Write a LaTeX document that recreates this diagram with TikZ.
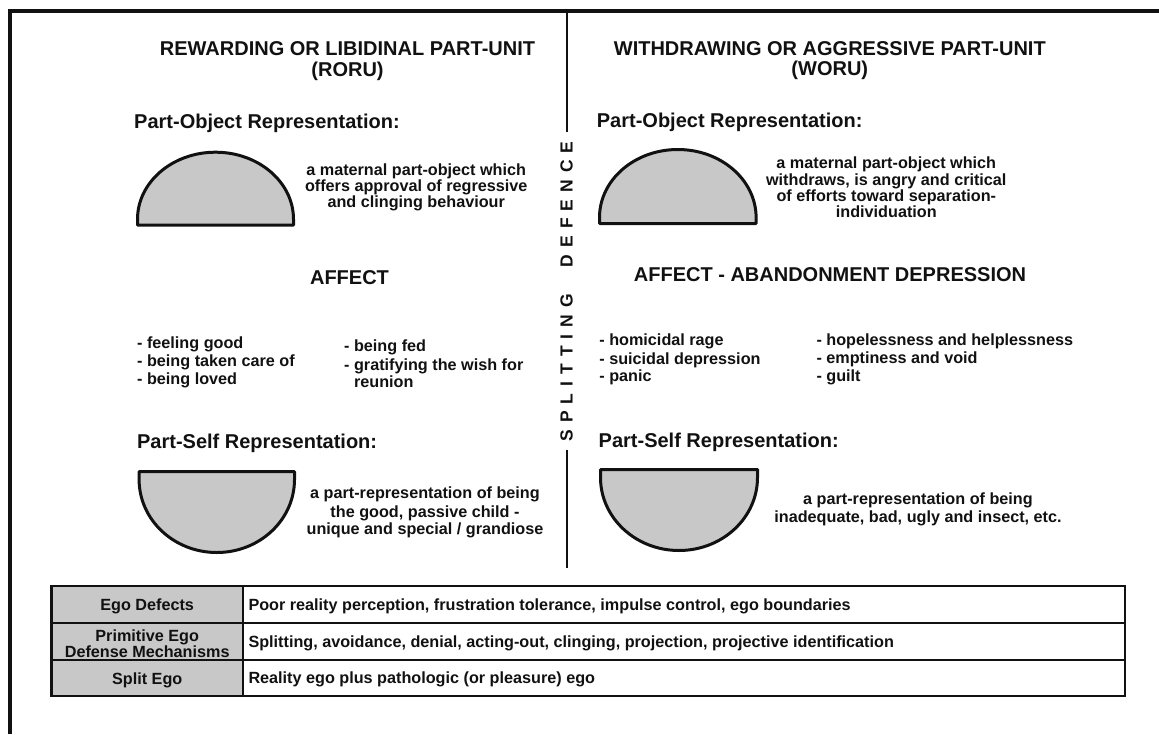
\documentclass[tikz,border=0pt]{standalone}
\usepackage{fontspec}
\setmainfont{Liberation Sans}
\definecolor{fillgray}{HTML}{C8C8C8}
\definecolor{ink}{HTML}{111111}
\newcommand\hdsize{\bfseries\fontsize{20}{22}\selectfont}
\newcommand\txsize{\bfseries\fontsize{16.2}{18}\selectfont}
\newcommand\sk{\kern7pt}
\tikzset{
  hd/.style={font=\hdsize, text=ink, inner sep=0pt, anchor=base},
  hdl/.style={hd, anchor=base west},
  tx/.style={font=\txsize, text=ink, inner sep=0pt, anchor=base},
  txl/.style={tx, anchor=base west},
  shp/.style={draw=ink, line width=3pt, fill=fillgray, line join=round},
  divline/.style={draw=ink, line width=2.2pt},
  tabline/.style={draw=ink, line width=2pt},
}
\begin{document}
\begin{tikzpicture}[x=1pt,y=-1pt]
\useasboundingbox (0,0) rectangle (1159,734);
% frame
\draw[ink, line width=4.6pt] (9.8,734) -- (9.8,11) -- (1159,11);

% divider with vertical label
\coordinate (dtop) at (566.7,11);
\coordinate (dbot) at (566.7,568);
\node[font=\bfseries\fontsize{17.5}{18}\selectfont, text=ink, inner sep=0pt, rotate=90] (split) at (566.7,291.5)
  {S\sk P\sk L\sk I\sk T\sk T\sk I\sk N\sk G\kern27pt D\sk E\sk F\sk E\sk N\sk C\sk E};
\coordinate (da) at (566.7,132);
\coordinate (db) at (566.7,450);
\draw[divline] (dtop) -- (da);
\draw[divline] (db) -- (dbot);

% headings
\node[hd] (h1a) at (347.5,55.5) {REWARDING OR LIBIDINAL PART-UNIT};
\node[hd] (h1b) at (347.5,76) {(RORU)};
\node[hd] (h2a) at (829.8,55) {WITHDRAWING OR AGGRESSIVE PART-UNIT};
\node[hd] (h2b) at (829.8,75.5) {(WORU)};

% part-object
\node[hdl] (po1) at (134,128) {Part-Object Representation:};
\node[hdl] (po2) at (596.7,127) {Part-Object Representation:};

\draw[shp] (137.5,225.2) -- (137.5,219.2) arc[start angle=180, end angle=0, x radius=78pt, y radius=67pt] -- (293.5,225.2) -- cycle;
\draw[shp] (599.5,223.5) -- (599.5,217.5) arc[start angle=180, end angle=0, x radius=78.3pt, y radius=68pt] -- (756.1,223.5) -- cycle;

\node[tx] (po1a) at (416.2,175) {a maternal part-object which};
\node[tx] (po1b) at (416.2,191) {offers approval of regressive};
\node[tx] (po1c) at (416.2,207.3) {and clinging behaviour};

\node[tx] (po2a) at (886.3,168.3) {a maternal part-object which};
\node[tx] (po2b) at (886.3,185) {withdraws, is angry and critical};
\node[tx] (po2c) at (886.3,201.3) {of efforts toward separation-};
\node[tx] (po2d) at (886.3,217.7) {individuation};

% affect
\node[hd] (af1) at (349.5,284) {AFFECT};
\node[hd] (af2) at (830,281) {AFFECT - ABANDONMENT DEPRESSION};

\node[txl] (l11) at (137,348) {- feeling good};
\node[txl] (l12) at (137,366.5) {- being taken care of};
\node[txl] (l13) at (137,384.7) {- being loved};
\node[txl] (l21) at (344,351.7) {- being fed};
\node[txl] (l22) at (344,370.2) {- gratifying the wish for};
\node[txl] (l23) at (344,387.6) {\phantom{- }reunion};

\node[txl] (r11) at (599.2,345.7) {- homicidal rage};
\node[txl] (r12) at (599.2,364) {- suicidal depression};
\node[txl] (r13) at (599.2,381.9) {- panic};
\node[txl] (r21) at (816.3,345) {- hopelessness and helplessness};
\node[txl] (r22) at (816.3,363.4) {- emptiness and void};
\node[txl] (r23) at (816.3,381.9) {- guilt};

% part-self
\node[hdl] (ps1) at (136.9,448.7) {Part-Self Representation:};
\node[hdl] (ps2) at (598.5,447.6) {Part-Self Representation:};

\draw[shp] (139.1,471.5) -- (294.5,471.5) -- (294.5,479.5) arc[start angle=0, end angle=-180, x radius=77.7pt, y radius=73pt] -- cycle;
\draw[shp] (600.5,469.5) -- (757.5,469.5) -- (757.5,477.5) arc[start angle=0, end angle=-180, x radius=78.5pt, y radius=73pt] -- cycle;

\node[tx] (ps1a) at (425,498.6) {a part-representation of being};
\node[tx] (ps1b) at (425,517) {the good, passive child -};
\node[tx] (ps1c) at (425,534.5) {unique and special / grandiose};

\node[tx] (ps2a) at (918,504.5) {a part-representation of being};
\node[tx] (ps2b) at (918,522.2) {inadequate, bad, ugly and insect, etc.};

% table
\fill[fillgray] (51.7,586) rectangle (242.7,696);
\draw[tabline] (51.7,622.5) -- (1125,622.5);
\draw[tabline] (51.7,659.5) -- (1125,659.5);
\draw[tabline] (242.7,586) -- (242.7,696);
\draw[ink, line width=2.7pt] (51.7,586) rectangle (1125,696);

\node[tx] (t1) at (147.2,610.7) {Ego Defects};
\node[tx] (t2a) at (147.2,641.6) {Primitive Ego};
\node[tx] (t2b) at (147.2,657.6) {Defense Mechanisms};
\node[tx] (t3) at (147.2,684) {Split Ego};

\node[txl] (u1) at (248.3,610.7) {Poor reality perception, frustration tolerance, impulse control, ego boundaries};
\node[txl] (u2) at (248.3,647) {Splitting, avoidance, denial, acting-out, clinging, projection, projective identification};
\node[txl] (u3) at (248.3,683.3) {Reality ego plus pathologic (or pleasure) ego};
\end{tikzpicture}
\end{document}
